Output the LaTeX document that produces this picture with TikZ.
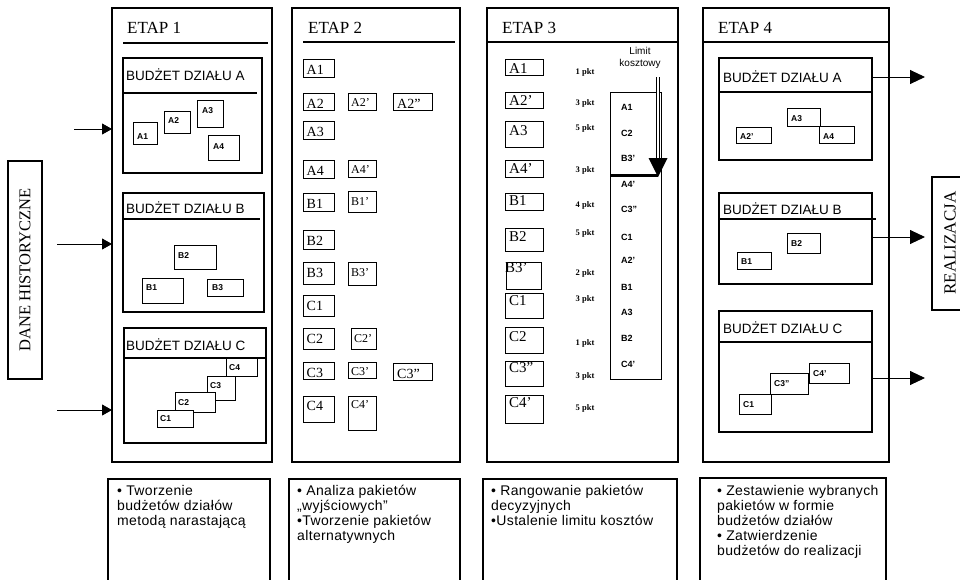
\documentclass[tikz,border=0pt]{standalone}
\usepackage{fontspec}
\setmainfont{Liberation Serif}
\setsansfont{Liberation Sans}
\newfontfamily\descfont[LetterSpace=2.5]{Liberation Sans}
\usetikzlibrary{arrows.meta,calc}
\newcommand\bx[6]{\node[boxbase,#6,minimum width={#4-#2},minimum height={#5-#3}] (#1) at (#2,#3) {};}
\newcommand\pk[9]{\node[boxbase,pkline,minimum width={#4-#2},minimum height={#5-#3}] (#1) at (#2,#3) {};
  \node[#6] (#1-t) at ([shift={(#7,#8)}]#1.north west) {#9};}
\tikzset{
 boxbase/.style={draw,rectangle,anchor=north west,inner sep=0pt,outer sep=0pt,fill=white,line width=1.1pt},
 pkline/.style={line width=0.9pt},
 s9/.style={anchor=base west,inner sep=0pt,font=\sffamily\bfseries\fontsize{8.5}{10}\selectfont},
 r14/.style={anchor=base west,inner sep=0pt,font=\rmfamily\fontsize{14}{16}\selectfont},
 r12/.style={anchor=base west,inner sep=0pt,font=\rmfamily\fontsize{12}{14}\selectfont},
 r15/.style={anchor=base west,inner sep=0pt,font=\rmfamily\fontsize{15}{17}\selectfont},
 etap/.style={anchor=base west,inner sep=0pt,font=\rmfamily\fontsize{17}{20}\selectfont},
 budz/.style={anchor=base west,inner sep=0pt,font=\sffamily\fontsize{13.5}{16}\selectfont},
 pkt/.style={inner sep=0pt,font=\rmfamily\bfseries\fontsize{8.5}{10}\selectfont},
 rk/.style={anchor=west,inner sep=0pt,font=\sffamily\bfseries\fontsize{9}{11}\selectfont},
 desc/.style={anchor=north west,inner sep=0pt,align=left,font=\descfont\fontsize{14}{15}\selectfont},
 side/.style={rotate=90,inner sep=0pt,font=\rmfamily\fontsize{16.5}{18}\selectfont},
 hline/.style={line width=1.1pt},
 arr/.style={line width=0.9pt,-{Triangle[length=10pt,width=11pt]}},
 arrb/.style={line width=0.9pt,-{Triangle[length=15pt,width=14pt]}},
}
\begin{document}
\begin{tikzpicture}[x=1pt,y=-1pt]
\useasboundingbox (0,0) rectangle (960,579);
% side boxes
\bx{dane}{8}{161}{42}{379}{}
\node[side] (danet) at (dane.center) {DANE HISTORYCZNE};
\bx{real}{932}{177}{968}{310}{}
\node[side,font=\rmfamily\fontsize{17}{18}\selectfont] (realt) at (950,243) {REALIZACJA};
% ETAP boxes
\bx{e1}{112}{8}{272}{462}{}
\bx{e2}{292}{8}{460}{462}{}
\bx{e3}{487}{8}{678}{462}{}
\bx{e4}{703}{8}{889}{462}{}
\node[etap] (e1t) at (127,33) {ETAP 1};
\node[etap] (e2t) at (308,33) {ETAP 2};
\node[etap] (e3t) at (502,33) {ETAP 3};
\node[etap] (e4t) at (718,33) {ETAP 4};
\draw[hline] (123,43) -- (268,43);
\draw[hline] (303,42) -- (455,42);
\draw[hline] (e3.west |- 0,42) -- (e3.east |- 0,42);
\draw[hline] (e4.west |- 0,42) -- (e4.east |- 0,42);
% ETAP 1 budgets
\bx{b1a}{123}{58}{262}{173}{}
\node[budz] (b1at) at (126,80) {BUDŻET DZIAŁU A};
\draw[hline] (123,93) -- (257,93);
\pk{a1}{133}{122}{157}{144}{s9}{4}{17}{A1}
\pk{a2}{164}{111}{190}{133}{s9}{4}{12}{A2}
\pk{a3}{197}{100}{223}{127}{s9}{5}{13}{A3}
\pk{a4}{208}{135}{239}{160}{s9}{5}{14}{A4}
\bx{b1b}{123}{193}{264}{312}{}
\node[budz] (b1bt) at (126,213) {BUDŻET DZIAŁU B};
\draw[hline] (123,219) -- (260,219);
\pk{b2}{174}{245}{216}{269}{s9}{4}{13}{B2}
\pk{b1}{142}{278}{183}{303}{s9}{4}{12}{B1}
\pk{b3}{207}{279}{243}{296}{s9}{5}{11}{B3}
\bx{b1c}{124}{328}{266}{443}{}
\node[budz] (b1ct) at (126,350) {BUDŻET DZIAŁU C};
\draw[hline] (b1c.west |- 0,358) -- (b1c.east |- 0,358);
\pk{c4}{226}{358}{257}{376}{s9}{3}{12}{C4}
\pk{c3}{207}{376}{235}{400}{s9}{3}{12}{C3}
\pk{c2}{175}{392}{215}{412}{s9}{3}{13}{C2}
\pk{c1}{157}{410}{193}{427}{s9}{3}{11}{C1}
% input arrows
\coordinate (in1) at (74,129);
\coordinate (in2) at (57,244);
\coordinate (in3) at (57,410);
\draw[arr] (in1) -- (in1 -| e1.west);
\draw[arr] (in2) -- (in2 -| e1.west);
\draw[arr] (in3) -- (in3 -| e1.west);
% ETAP 2
\pk{p2a1}{303}{59}{334}{77}{r14}{3.5}{15.5}{A1}
\pk{p2a2}{303}{93}{334}{110}{r14}{3.5}{15.5}{A2}
\pk{p2a2p}{348}{93}{376}{110}{r12}{3}{13.5}{A2'}
\pk{p2a2pp}{393}{93}{432}{110}{r14}{4}{15.5}{A2''}
\pk{p2a3}{303}{121}{334}{139}{r14}{3.5}{15.5}{A3}
\pk{p2a4}{303}{160}{334}{178}{r14}{3.5}{15.5}{A4}
\pk{p2a4p}{348}{160}{376}{177}{r12}{3}{13.5}{A4'}
\pk{p2b1}{303}{193}{334}{211}{r14}{3.5}{15.5}{B1}
\pk{p2b1p}{348}{191}{376}{212}{r12}{3}{14}{B1'}
\pk{p2b2}{303}{230}{334}{249}{r14}{3.5}{15.5}{B2}
\pk{p2b3}{303}{262}{334}{284}{r14}{3.5}{15.5}{B3}
\pk{p2b3p}{348}{262}{376}{285}{r12}{3}{14}{B3'}
\pk{p2c1}{303}{295}{334}{316}{r14}{3.5}{15.5}{C1}
\pk{p2c2}{303}{328}{334}{349}{r14}{3.5}{15.5}{C2}
\pk{p2c2p}{351}{328}{376}{349}{r12}{3}{14}{C2'}
\pk{p2c3}{303}{362}{334}{379}{r14}{3.5}{15.5}{C3}
\pk{p2c3p}{348}{362}{376}{378}{r12}{3}{13.5}{C3'}
\pk{p2c3pp}{393}{363}{432}{380}{r14}{4}{15.5}{C3''}
\pk{p2c4}{303}{396}{334}{422}{r14}{3.5}{14}{C4}
\pk{p2c4p}{348}{396}{376}{430}{r12}{3}{12.5}{C4'}
% ETAP 3
\pk{p3a1}{505}{59}{543}{75}{r15}{4}{14}{A1}
\pk{p3a2}{505}{92}{543}{108}{r15}{4}{13}{A2'}
\pk{p3a3}{505}{121}{543}{147}{r15}{4}{14}{A3}
\pk{p3a4}{505}{160}{543}{177}{r15}{4}{13}{A4'}
\pk{p3b1}{505}{193}{543}{210}{r15}{4}{12}{B1}
\pk{p3b2}{505}{228}{543}{251}{r15}{4}{13}{B2}
\pk{p3b3}{506}{262}{541}{289}{r15}{-1}{10.5}{B3'}
\pk{p3c1}{505}{293}{543}{318}{r15}{4}{12}{C1}
\pk{p3c2}{505}{327}{543}{353}{r15}{4}{14}{C2}
\pk{p3c3}{505}{361}{543}{386}{r15}{4}{11.5}{C3''}
\pk{p3c4}{505}{395}{543}{423}{r15}{4}{12}{C4'}
\node[pkt] (k1) at (585,72) {1 pkt};
\node[pkt] (k2) at (585,103) {3 pkt};
\node[pkt] (k3) at (585,128) {5 pkt};
\node[pkt] (k4) at (585,170) {3 pkt};
\node[pkt] (k5) at (585,205) {4 pkt};
\node[pkt] (k6) at (585,233) {5 pkt};
\node[pkt] (k7) at (585,273) {2 pkt};
\node[pkt] (k8) at (585,299) {3 pkt};
\node[pkt] (k9) at (585,343) {1 pkt};
\node[pkt] (k10) at (585,376) {3 pkt};
\node[pkt] (k11) at (585,408) {5 pkt};
\bx{rank}{610}{92}{661}{379}{pkline}
\node[rk] (r1) at (621,107) {A1};
\node[rk] (r2) at (621,133) {C2};
\node[rk] (r3) at (621,158) {B3'};
\node[rk] (r4) at (621,184) {A4'};
\node[rk] (r5) at (621,209) {C3''};
\node[rk] (r6) at (621,237) {C1};
\node[rk] (r7) at (621,260) {A2'};
\node[rk] (r8) at (621,287) {B1};
\node[rk] (r9) at (621,312) {A3};
\node[rk] (r10) at (621,338) {B2};
\node[rk] (r11) at (621,364) {C4'};
\node[align=center,inner sep=0pt,font=\sffamily\fontsize{10}{11.5}\selectfont] (lim) at (640,58) {Limit\\kosztowy};
\coordinate (lim1) at (658,77);
\coordinate (lim2) at (658,158);
\coordinate (lim3) at (658,177);
\draw[line width=2.8pt] (rank.west |- lim3) ++(0,-1.5) -- ($(lim3)+(0,-1.5)$);
\draw[double,line width=1pt,double distance=2.4pt] (lim1) -- (lim2);
\fill ($(lim2)+(-9.5,0)$) -- ($(lim2)+(9.5,0)$) -- (lim3) -- cycle;
% ETAP 4
\bx{b4a}{719}{58}{872}{160}{}
\node[budz] (b4at) at (723,82) {BUDŻET DZIAŁU A};
\draw[hline] (b4a.west |- 0,92) -- (b4a.east |- 0,92);
\pk{q4a2}{736}{127}{771}{143}{s9}{4}{12}{A2'}
\pk{q4a3}{787}{108}{820}{126}{s9}{4}{13}{A3}
\pk{q4a4}{819}{126}{854}{143}{s9}{4}{13}{A4}
\bx{b4b}{719}{193}{872}{284}{}
\node[budz] (b4bt) at (723,214) {BUDŻET DZIAŁU B};
\draw[hline] (719,219) -- (876,219);
\pk{q4b2}{787}{233}{820}{253}{s9}{4}{13}{B2}
\pk{q4b1}{737}{252}{771}{269}{s9}{4}{12}{B1}
\bx{b4c}{719}{311}{872}{432}{}
\node[budz] (b4ct) at (723,333) {BUDŻET DZIAŁU C};
\draw[hline] (b4c.west |- 0,342) -- (b4c.east |- 0,342);
\pk{q4c1}{739}{394}{771}{414}{s9}{4}{13}{C1}
\pk{q4c3}{770}{373}{808}{394}{s9}{4}{13}{C3''}
\pk{q4c4}{809}{363}{849}{383}{s9}{4}{13}{C4'}
\coordinate (out1) at (925,77);
\coordinate (out2) at (925,237);
\coordinate (out3) at (925,378);
\draw[arrb] (out1 -| b4a.east) -- (out1);
\draw[arrb] (out2 -| b4b.east) -- (out2);
\draw[arrb] (out3 -| b4c.east) -- (out3);
% bottom description boxes
\bx{t1}{108}{479}{270}{595}{}
\bx{t2}{289}{479}{460}{595}{}
\bx{t3}{483}{479}{677}{595}{}
\bx{t4}{700}{478}{886}{595}{}
\node[desc] (t1t) at (117,485) {• Tworzenie\\budżetów działów\\metodą narastającą};
\node[desc] (t2t) at (297,485) {• Analiza pakietów\\„wyjściowych”\\•Tworzenie pakietów\\alternatywnych};
\node[desc] (t3t) at (491,485) {• Rangowanie pakietów\\decyzyjnych\\•Ustalenie limitu kosztów};
\node[desc] (t4t) at (717,485) {• Zestawienie wybranych\\pakietów w formie\\budżetów działów\\• Zatwierdzenie\\budżetów do realizacji};
\end{tikzpicture}
\end{document}
